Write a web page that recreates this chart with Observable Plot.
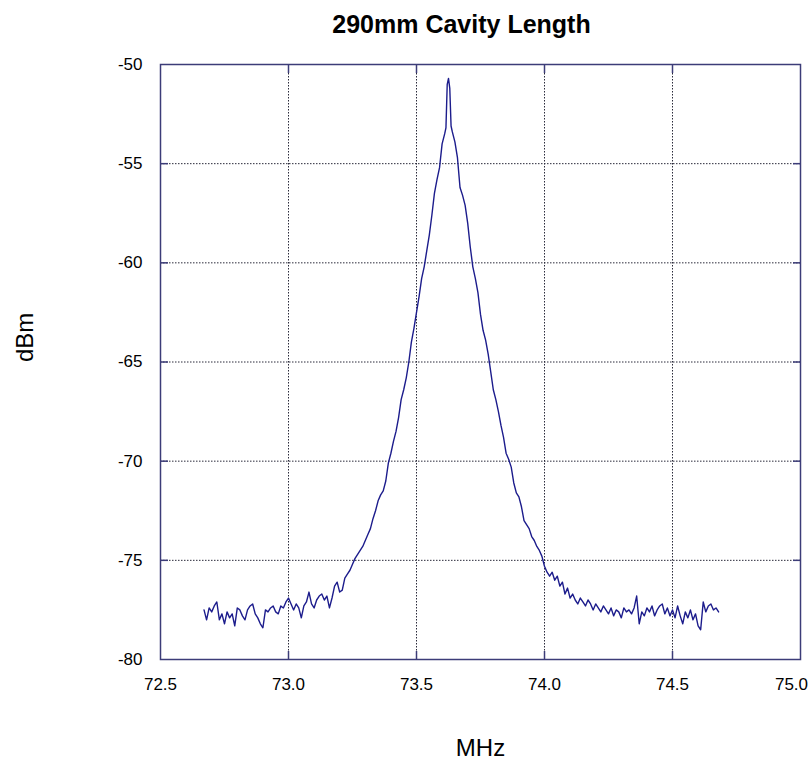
<!DOCTYPE html>
<html>
<head>
<meta charset="utf-8">
<script src="https://cdn.jsdelivr.net/npm/d3@7"></script>
<script src="https://cdn.jsdelivr.net/npm/@observablehq/plot@0.6"></script>
<style>
  html, body { margin: 0; padding: 0; background: #fff; }
</style>
</head>
<body>
<div id="chart"></div>
<script>
const title = "290mm Cavity Length";
const xLabel = "MHz";
const yLabel = "dBm";
const xTickValues = [72.5, 73.0, 73.5, 74.0, 74.5];
const xLastTick = [75.0];
const yTickValues = [-50, -55, -60, -65, -70, -75, -80];
const xGrid = [73.0, 73.5, 74.0, 74.5];
const yGrid = [-55, -60, -65, -70, -75];

const freqMHz = [
  72.67,72.68,72.69,72.70,72.71,72.72,72.73,72.74,72.75,72.76,72.77,72.78,72.79,
  72.80,72.81,72.82,72.83,72.84,72.85,72.86,72.87,72.88,72.89,
  72.90,72.91,72.92,72.93,72.94,72.95,72.96,72.97,72.98,72.99,
  73.00,73.01,73.02,73.03,73.04,73.05,73.06,73.07,73.08,73.09,
  73.10,73.11,73.12,73.13,73.14,73.15,73.16,73.17,73.18,73.19,
  73.20,73.21,73.22,73.23,73.24,73.25,73.26,73.27,73.28,73.29,
  73.30,73.31,73.32,73.33,73.34,73.35,73.36,73.37,73.38,73.39,
  73.40,73.41,73.42,73.43,73.44,73.45,73.46,73.47,73.48,73.49,
  73.50,73.51,73.52,73.53,73.54,73.55,73.56,73.57,73.58,73.59,
  73.60,73.61,73.615,73.62,73.625,73.63,73.635,73.64,73.65,73.66,73.67,73.68,73.69,
  73.70,73.71,73.72,73.73,73.74,73.75,73.76,73.77,73.78,73.79,
  73.80,73.81,73.82,73.83,73.84,73.85,73.86,73.87,73.88,73.89,
  73.90,73.91,73.92,73.93,73.94,73.95,73.96,73.97,73.98,73.99,
  74.00,74.01,74.02,74.03,74.04,74.05,74.06,74.07,74.08,74.09,
  74.10,74.11,74.12,74.13,74.14,74.15,74.16,74.17,74.18,74.19,
  74.20,74.21,74.22,74.23,74.24,74.25,74.26,74.27,74.28,74.29,
  74.30,74.31,74.32,74.33,74.34,74.35,74.36,74.37,74.38,74.39,
  74.40,74.41,74.42,74.43,74.44,74.45,74.46,74.47,74.48,74.49,
  74.50,74.51,74.52,74.53,74.54,74.55,74.56,74.57,74.58,74.59,
  74.60,74.61,74.62,74.63,74.64,74.65,74.66,74.67,74.68
];

const powerDbm = [
  -77.5,-78.0,-77.4,-77.6,-77.3,-77.1,-78.0,-77.7,-78.2,-77.6,-77.9,-77.7,-78.3,
  -77.4,-77.5,-77.8,-78.0,-77.5,-77.3,-77.2,-77.7,-77.9,-78.2,
  -78.4,-77.5,-77.6,-77.4,-77.3,-77.6,-77.7,-77.3,-77.4,-77.1,
  -76.9,-77.2,-77.5,-77.2,-77.4,-77.9,-77.3,-77.1,-76.6,-77.2,
  -77.4,-77.0,-76.8,-76.7,-77.0,-76.8,-77.4,-76.9,-76.3,-76.1,
  -76.6,-76.5,-75.9,-75.7,-75.5,-75.2,-74.9,-74.7,-74.5,-74.3,
  -74.0,-73.7,-73.4,-72.9,-72.5,-72.0,-71.7,-71.5,-71.0,-70.1,
  -69.6,-69.0,-68.5,-67.8,-66.9,-66.4,-65.8,-65.0,-64.0,-63.3,
  -62.5,-61.7,-60.8,-60.2,-59.4,-58.6,-57.6,-56.5,-55.8,-55.2,
  -54.0,-53.5,-53.2,-51.0,-50.7,-51.2,-53.1,-53.4,-53.9,-54.7,-56.2,-56.6,-57.1,
  -58.0,-59.2,-60.2,-60.8,-61.5,-62.6,-63.4,-63.9,-64.6,-65.5,
  -66.4,-66.9,-67.5,-68.2,-68.8,-69.6,-69.9,-70.3,-71.1,-71.6,
  -71.8,-72.3,-73.0,-73.2,-73.4,-73.8,-74.0,-74.3,-74.5,-74.8,
  -75.3,-75.6,-75.8,-75.6,-76.0,-75.8,-76.3,-76.1,-76.7,-76.4,
  -76.9,-76.7,-77.0,-77.2,-76.9,-77.1,-77.3,-77.0,-77.2,-77.5,
  -77.2,-77.4,-77.6,-77.3,-77.5,-77.7,-77.4,-77.8,-77.5,-77.6,
  -77.9,-77.4,-77.6,-77.5,-77.7,-77.4,-76.8,-78.2,-77.6,-77.8,
  -77.4,-77.6,-77.3,-77.8,-77.5,-77.3,-77.2,-77.7,-77.4,-77.8,
  -77.5,-77.9,-77.3,-77.8,-78.2,-77.6,-77.9,-77.5,-78.0,-77.7,
  -78.3,-78.5,-77.1,-77.6,-77.3,-77.2,-77.5,-77.4,-77.6
];

const data = freqMHz.map((f, i) => ({f, p: powerDbm[i]}));

const frameColor = "#3c3c78";
const traceColor = "#1c1c8c";
const gridColor = "#2a2a3a";
const fmt1 = d3.format(".1f");

const chart = Plot.plot({
  width: 812,
  height: 763,
  marginLeft: 160,
  marginRight: 12,
  marginTop: 64,
  marginBottom: 104,
  style: {fontFamily: "'Liberation Sans', Arial, sans-serif", fontSize: "17px", background: "#fff", color: "#000"},
  x: {domain: [72.5, 75.0], label: null},
  y: {domain: [-80, -50], label: null},
  marks: [
    Plot.gridX(xGrid, {stroke: gridColor, strokeOpacity: 1, strokeWidth: 1, strokeDasharray: "1.5,1.5"}),
    Plot.gridY(yGrid, {stroke: gridColor, strokeOpacity: 1, strokeWidth: 1, strokeDasharray: "1.5,1.5"}),
    // inward tick marks on all four sides
    Plot.axisX(xGrid, {anchor: "bottom", tickSize: 8, dy: -8, text: null, label: null, stroke: frameColor, strokeWidth: 1.5}),
    Plot.axisX(xGrid, {anchor: "top", tickSize: 8, dy: 8, text: null, label: null, stroke: frameColor, strokeWidth: 1.5}),
    Plot.axisY(yGrid, {anchor: "left", tickSize: 8, dx: 8, text: null, label: null, stroke: frameColor, strokeWidth: 1.5}),
    Plot.axisY(yGrid, {anchor: "right", tickSize: 8, dx: -8, text: null, label: null, stroke: frameColor, strokeWidth: 1.5}),
    // tick labels
    Plot.axisX(xTickValues, {anchor: "bottom", tickSize: 0, tickPadding: 18, tickFormat: fmt1, label: null, fontSize: 17}),
    Plot.axisX(xLastTick, {anchor: "bottom", tickSize: 0, tickPadding: 18, tickFormat: fmt1, label: null, fontSize: 17, dx: -9}),
    Plot.axisY(yTickValues, {anchor: "left", tickSize: 0, tickPadding: 18, tickFormat: d => String(d), label: null, fontSize: 17}),
    Plot.frame({stroke: frameColor, strokeWidth: 1.5}),
    Plot.line(data, {x: "f", y: "p", stroke: traceColor, strokeWidth: 1.4}),
    // titles
    Plot.text([title], {frameAnchor: "top", dx: -19, dy: -40, fontSize: 25, fontWeight: "bold", fill: "#000", lineAnchor: "middle"}),
    Plot.text([xLabel], {frameAnchor: "bottom", dy: 89, fontSize: 24, fill: "#000", lineAnchor: "middle"}),
    Plot.text([yLabel], {frameAnchor: "left", dx: -135, rotate: -90, fontSize: 24, fill: "#000", lineAnchor: "middle"})
  ]
});

document.getElementById("chart").appendChild(chart);
</script>
</body>
</html>
